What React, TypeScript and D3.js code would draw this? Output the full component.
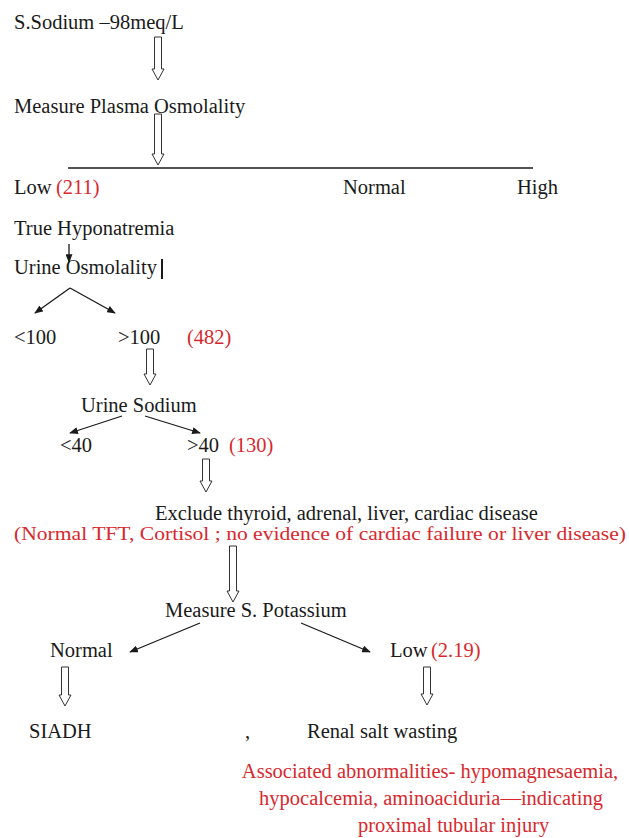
import React, { useEffect, useRef } from 'react';
import * as d3 from 'd3';

// flowchart text, top to bottom
const steps = [
  'S.Sodium –98meq/L',
  'Measure Plasma Osmolality',
  'True Hyponatremia',
  'Urine Osmolality',
  'Urine Sodium',
  'Exclude thyroid, adrenal, liver, cardiac disease',
  'Measure S. Potassium',
];
const osmoLevels = ['Low', 'Normal', 'High'];
const urineOsmoBranches = ['<100', '>100'];
const urineNaBranches = ['<40', '>40'];
const potassiumBranches = ['Normal', 'Low'];
const outcomes = ['SIADH', ',', 'Renal salt wasting'];
const patientValues = ['(211)', '(482)', '(130)', '(2.19)'];
const exclusionNote = '(Normal TFT,  Cortisol ; no evidence of cardiac failure or liver disease)';
const tubularNote = [
  'Associated abnormalities- hypomagnesaemia,',
  'hypocalcemia, aminoaciduria—indicating',
  'proximal tubular injury',
];

const W = 629;
const H = 838;
const RED = '#d8282e';
const INK = '#1a1a1a';
const FS = 20.5;

// layout: [x, baseline]
const stepPos: [number, number][] = [
  [14, 29], [14, 113], [14, 235], [14, 274], [81, 412], [155, 520], [165, 617],
];
const osmoPos: [number, number][] = [[14, 194], [343, 194], [517, 194]];
const uoPos: [number, number][] = [[14, 344], [118, 344]];
const unaPos: [number, number][] = [[60, 452], [187, 452]];
const kPos: [number, number][] = [[50, 657], [390, 657]];
const outPos: [number, number][] = [[29, 738], [245, 738], [307, 738]];
const valPos: [number, number][] = [[56, 194], [187, 344], [229, 452], [431, 657]];
// tubular note lines: [x, baseline, anchor]
const notePos: [number, number, string][] = [
  [430, 778, 'middle'], [431, 805, 'middle'], [358, 832, 'start'],
];

// hollow arrows: [cx, top, bottom]
const hollow: [number, number, number][] = [
  [158, 37, 80], [158, 114, 165], [150, 349, 385], [206, 459, 492],
  [233, 546, 602], [65, 667, 706], [427, 667, 705],
];
// thin arrows: [x1, y1, x2, y2]
const thin: [number, number, number, number][] = [
  [69, 244, 69, 262], [70, 288, 35, 313], [70, 288, 115, 313],
  [122, 416, 70, 433], [145, 416, 200, 433],
  [200, 623, 130, 652], [301, 623, 370, 652],
];

export default function App() {
  const ref = useRef<SVGSVGElement>(null);

  useEffect(() => {
    const svg = d3.select(ref.current);
    svg.selectAll('*').remove();

    svg.append('rect').attr('width', W).attr('height', H).attr('fill', 'white');

    svg.append('defs').append('marker')
      .attr('id', 'head')
      .attr('viewBox', '0 0 10 8')
      .attr('refX', 9).attr('refY', 4)
      .attr('markerWidth', 9).attr('markerHeight', 7)
      .attr('markerUnits', 'userSpaceOnUse')
      .attr('orient', 'auto')
      .append('path').attr('d', 'M0,0 L10,4 L0,8 Z').attr('fill', INK);

    const font = (sel: any) => sel
      .attr('font-family', '"Liberation Serif", "Times New Roman", serif')
      .attr('font-size', FS);

    const label = (txt: string, p: [number, number], color = INK) =>
      font(svg.append('text'))
        .attr('x', p[0]).attr('y', p[1])
        .attr('fill', color)
        .text(txt);

    steps.forEach((s, i) => label(s, stepPos[i]));
    osmoLevels.forEach((s, i) => label(s, osmoPos[i]));
    urineOsmoBranches.forEach((s, i) => label(s, uoPos[i]));
    urineNaBranches.forEach((s, i) => label(s, unaPos[i]));
    potassiumBranches.forEach((s, i) => label(s, kPos[i]));
    outcomes.forEach((s, i) => label(s, outPos[i]));
    patientValues.forEach((s, i) => label(s, valPos[i], RED));

    font(svg.append('text'))
      .attr('x', 14).attr('y', 540)
      .attr('fill', RED)
      .attr('font-size', 19.5)
      .attr('textLength', 612)
      .attr('lengthAdjust', 'spacingAndGlyphs')
      .text(exclusionNote);

    tubularNote.forEach((s, i) => {
      font(svg.append('text'))
        .attr('x', notePos[i][0]).attr('y', notePos[i][1])
        .attr('text-anchor', notePos[i][2])
        .attr('fill', RED)
        .text(s);
    });

    // osmolality divider
    svg.append('line')
      .attr('x1', 68).attr('x2', 533).attr('y1', 168).attr('y2', 168)
      .attr('stroke', INK).attr('stroke-width', 1.5);

    // text cursor after "Urine Osmolality"
    svg.append('line')
      .attr('x1', 162).attr('x2', 162).attr('y1', 259).attr('y2', 279)
      .attr('stroke', INK).attr('stroke-width', 2);

    const hollowPath = ([cx, y0, y1]: [number, number, number]) => {
      const p = d3.path();
      const sw = 3.5, hw = 6, hl = 11;
      p.moveTo(cx - sw, y0);
      p.lineTo(cx + sw, y0);
      p.lineTo(cx + sw, y1 - hl);
      p.lineTo(cx + hw, y1 - hl);
      p.lineTo(cx, y1);
      p.lineTo(cx - hw, y1 - hl);
      p.lineTo(cx - sw, y1 - hl);
      p.closePath();
      return p.toString();
    };

    svg.selectAll('path.hollow')
      .data(hollow)
      .enter().append('path')
      .attr('class', 'hollow')
      .attr('d', d => hollowPath(d))
      .attr('fill', 'none')
      .attr('stroke', '#333')
      .attr('stroke-width', 1);

    svg.selectAll('line.thin')
      .data(thin)
      .enter().append('line')
      .attr('class', 'thin')
      .attr('x1', d => d[0]).attr('y1', d => d[1])
      .attr('x2', d => d[2]).attr('y2', d => d[3])
      .attr('stroke', INK)
      .attr('stroke-width', 1.3)
      .attr('marker-end', 'url(#head)');
  }, []);

  return (
    <svg
      ref={ref}
      width={W}
      height={H}
      style={{ position: 'absolute', left: 0, top: 0 }}
    />
  );
}
